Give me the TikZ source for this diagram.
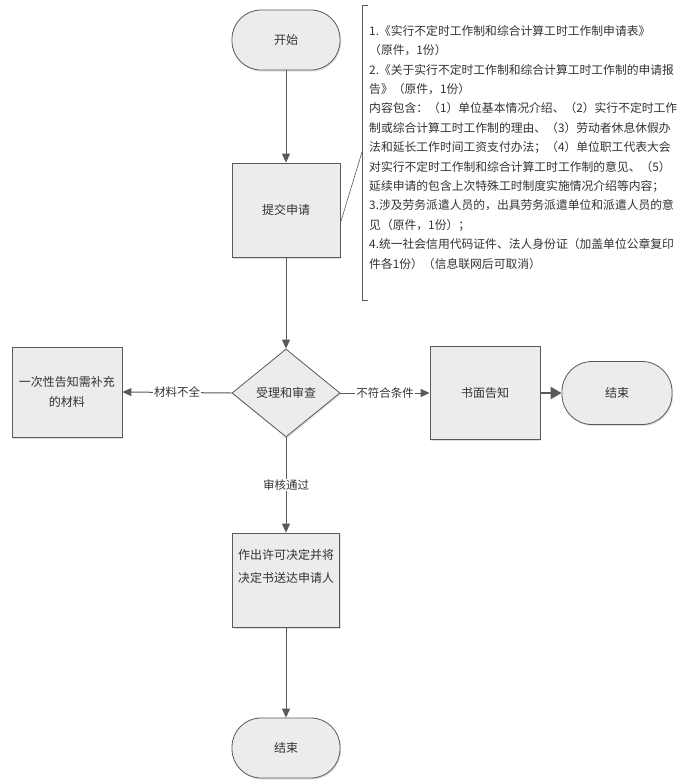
\documentclass[tikz,border=0pt]{standalone}
\usepackage{fontspec}
\setmainfont{Noto Sans CJK SC}
\usetikzlibrary{shapes.geometric,arrows.meta,shadows,calc}
\definecolor{lin}{HTML}{5A5A5A}
\definecolor{fil}{HTML}{ECECEC}
\tikzset{
  every node/.style={font=\fontsize{12}{15}\selectfont, text=black!80},
  term/.style={draw=lin, line width=0.8pt, fill=fil, rounded corners=29pt, minimum width=108pt, minimum height=60pt, drop shadow={shadow xshift=1pt, shadow yshift=-1.5pt, opacity=0.25}},
  proc/.style={draw=lin, line width=0.8pt, fill=fil, minimum width=108pt, minimum height=94pt, drop shadow={shadow xshift=1pt, shadow yshift=-1.5pt, opacity=0.25}},
  deci/.style={draw=lin, line width=0.8pt, fill=fil, diamond, minimum width=108pt, minimum height=88pt, inner sep=0pt, drop shadow={shadow xshift=1pt, shadow yshift=-1.5pt, opacity=0.25}},
  conn/.style={draw=lin, line width=1pt, -{Triangle[length=9pt,width=8pt]}},
  lbl/.style={fill=white, inner sep=1pt, font=\fontsize{11.5}{13}\selectfont},
}
\begin{document}
\begin{tikzpicture}[x=1pt,y=-1pt]
\useasboundingbox (0,0) rectangle (684,780);
\fill[white] (0,0) rectangle (684,780);
% nodes
\node[term] (start) at (286,40) {开始};
\node[proc] (submit) at (286,210) {提交申请};
\node[deci] (review) at (286,393) {受理和审查};
\node[proc, minimum width=110pt, minimum height=90pt, align=center, font=\fontsize{12}{20}\selectfont] (left) at (67,392) {一次性告知需补充\\的材料};
\node[proc, minimum width=110pt, minimum height=93pt] (notify) at (485,393) {书面告知};
\node[term, minimum width=110pt, minimum height=63pt, rounded corners=30pt] (end1) at (617,393) {结束};
\node[proc, minimum width=107pt, minimum height=94pt] (permit) at (286,580) {};
\node[align=center, anchor=north, font=\fontsize{12}{23}\selectfont] (permittext) at (286,546) {作出许可决定并将\\决定书送达申请人};
\node[term] (end2) at (286,748) {结束};
% connectors
\draw[conn] (start) -- (submit);
\draw[conn] (submit) -- (review);
\draw[conn] (review.west) -- node[lbl] {材料不全} (left.east);
\draw[conn] (review.east) -- node[lbl] {不符合条件} (notify.west);
\draw[conn, line width=2.5pt, -{Triangle[length=11pt,width=12pt]}] (notify.east) -- (end1.west);
\draw[conn] (review.south) -- node[lbl, pos=0.5] {审核通过} (permit.north);
\draw[conn] (permit) -- (end2);
% annotation
\coordinate (bt) at (362,5);
\coordinate (bb) at (362,300);
\coordinate (bm) at (362,152);
\draw[lin, line width=0.9pt] ($(bt)+(6,0)$) -- (bt) -- (bb) -- ($(bb)+(6,0)$);
\draw[lin, line width=0.6pt] ([yshift=-13pt]submit.east) -- (bm);
\node[anchor=north west, align=left, inner sep=0pt, font=\fontsize{11.8}{19.4}\selectfont] (note) at (369,25) {%
1.《实行不定时工作制和综合计算工时工作制申请表》\\
（原件，1份）\\
2.《关于实行不定时工作制和综合计算工时工作制的申请报\\
告》（原件，1份）\\
内容包含：（1）单位基本情况介绍、（2）实行不定时工作\\
制或综合计算工时工作制的理由、（3）劳动者休息休假办\\
法和延长工作时间工资支付办法；（4）单位职工代表大会\\
对实行不定时工作制和综合计算工时工作制的意见、（5）\\
延续申请的包含上次特殊工时制度实施情况介绍等内容；\\
3.涉及劳务派遣人员的，出具劳务派遣单位和派遣人员的意\\
见（原件，1份）；\\
4.统一社会信用代码证件、法人身份证（加盖单位公章复印\\
件各1份）（信息联网后可取消）};
\end{tikzpicture}
\end{document}
